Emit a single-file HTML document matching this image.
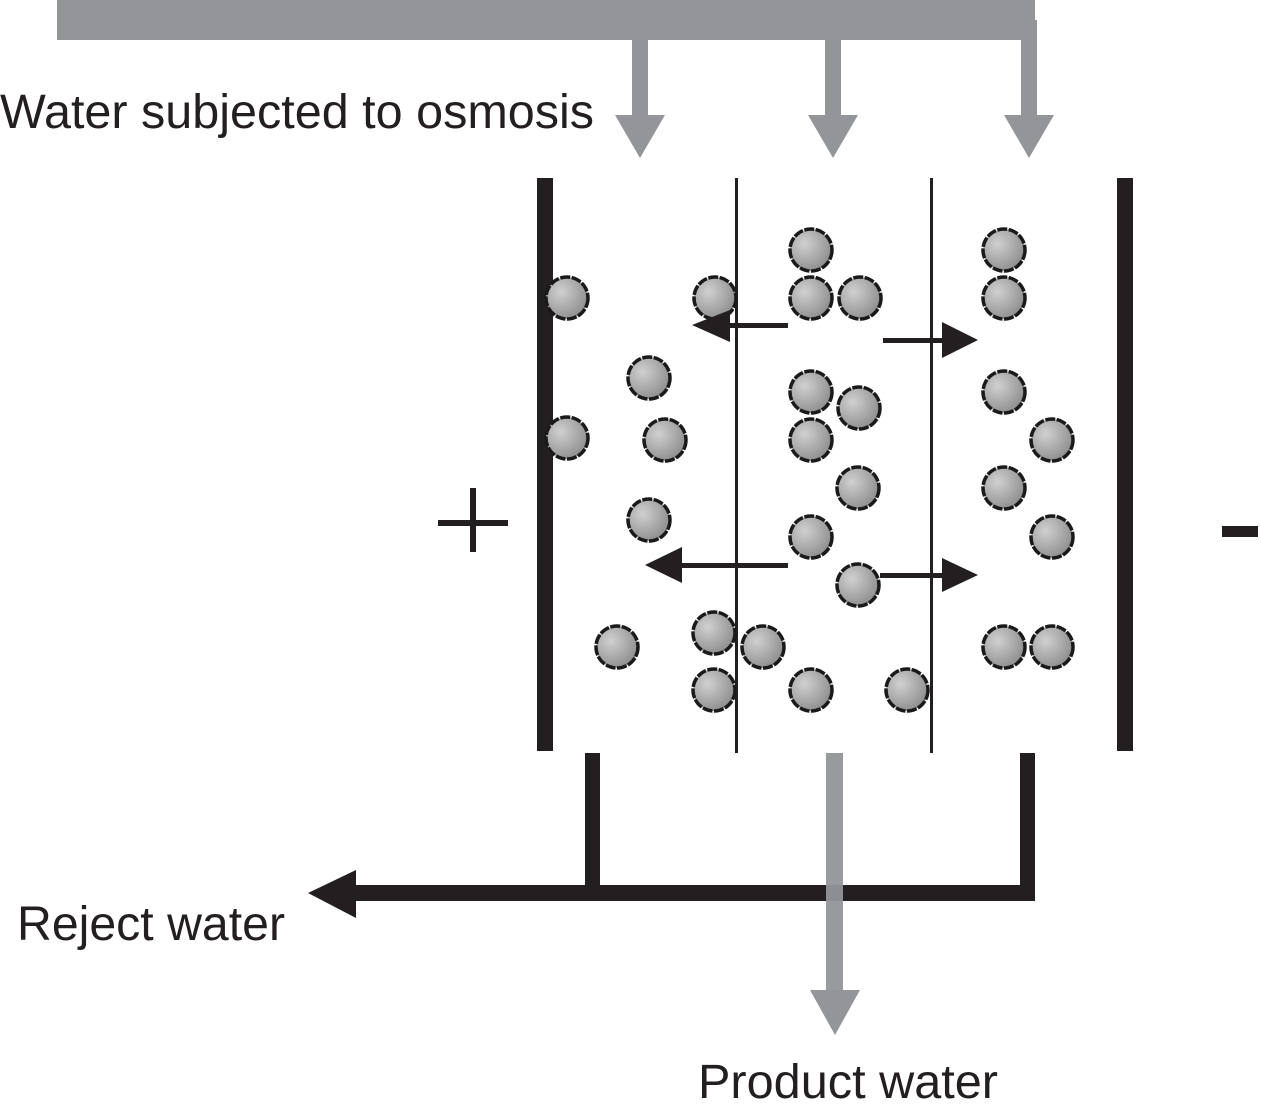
<!DOCTYPE html>
<html><head><style>
html,body{margin:0;padding:0;background:#fff;}
svg{display:block;}
text{font-family:"Liberation Sans",Arial,sans-serif;fill:#231f20;}
</style></head><body>
<svg width="1261" height="1108" viewBox="0 0 1261 1108" xmlns="http://www.w3.org/2000/svg">
<defs>
<radialGradient id="g" cx="0.35" cy="0.35" r="0.75">
<stop offset="0" stop-color="#d0d0d0"/><stop offset="1" stop-color="#888"/>
</radialGradient>
<g id="c"><circle r="21" fill="url(#g)" stroke="#1a1a1a" stroke-width="3.5" stroke-dasharray="10 1.5"/></g>
</defs>
<rect x="57" y="0" width="978" height="40" fill="#939598"/>
<g fill="#939598">
<rect x="632" y="38" width="16" height="80"/><polygon points="615,115 665,115 640,158"/>
<rect x="825" y="38" width="16" height="80"/><polygon points="808,115 858,115 833,158"/>
<rect x="1021" y="20" width="16" height="98"/><polygon points="1004,115 1054,115 1029,158"/>
</g>
<text x="0" y="128" font-size="48" textLength="594" lengthAdjust="spacingAndGlyphs">Water subjected to osmosis</text>
<rect x="537" y="178" width="16" height="573" fill="#231f20"/>
<rect x="1117" y="178" width="16" height="573" fill="#231f20"/>
<rect x="735" y="178" width="3" height="575" fill="#231f20"/>
<rect x="930" y="178" width="3" height="575" fill="#231f20"/>
<rect x="438" y="520" width="70" height="6" fill="#231f20"/>
<rect x="470" y="488" width="6" height="64" fill="#231f20"/>
<rect x="1222" y="526" width="36" height="11" fill="#231f20"/>
<g>
<use href="#c" x="567" y="298"/><use href="#c" x="715" y="298"/><use href="#c" x="649" y="378"/>
<use href="#c" x="567" y="438"/><use href="#c" x="665" y="440"/><use href="#c" x="649" y="520"/>
<use href="#c" x="617" y="647"/><use href="#c" x="714" y="633"/><use href="#c" x="714" y="690"/>
<use href="#c" x="811" y="250"/><use href="#c" x="811" y="298"/><use href="#c" x="860" y="298"/>
<use href="#c" x="811" y="392"/><use href="#c" x="859" y="408"/><use href="#c" x="811" y="440"/>
<use href="#c" x="858" y="488"/><use href="#c" x="811" y="537"/><use href="#c" x="858" y="585"/>
<use href="#c" x="763" y="647"/><use href="#c" x="811" y="690"/><use href="#c" x="907" y="690"/>
<use href="#c" x="1004" y="250"/><use href="#c" x="1004" y="298"/><use href="#c" x="1004" y="392"/>
<use href="#c" x="1052" y="440"/><use href="#c" x="1004" y="488"/><use href="#c" x="1052" y="537"/>
<use href="#c" x="1004" y="647"/><use href="#c" x="1052" y="647"/>
</g>
<g fill="#231f20">
<rect x="725" y="323" width="63" height="5"/><polygon points="692,325 730,310 730,342"/>
<rect x="883" y="338" width="60" height="5"/><polygon points="978,340 942,322 942,358"/>
<rect x="680" y="563" width="108" height="5"/><polygon points="645,565 682,547 682,583"/>
<rect x="880" y="573" width="64" height="5"/><polygon points="978,575 942,558 942,592"/>
</g>
<rect x="585" y="753" width="15" height="140" fill="#231f20"/>
<rect x="1020" y="753" width="15" height="148" fill="#231f20"/>
<rect x="350" y="885" width="685" height="16" fill="#231f20"/>
<polygon points="308,893 356,870 356,918" fill="#231f20"/>
<rect x="826" y="753" width="17" height="240" fill="#939598" opacity="0.95"/>
<polygon points="810,990 860,990 835,1035" fill="#939598"/>
<text x="17" y="940" font-size="48" textLength="268" lengthAdjust="spacingAndGlyphs">Reject water</text>
<text x="698" y="1098" font-size="48" textLength="300" lengthAdjust="spacingAndGlyphs">Product water</text>
</svg>
</body></html>
